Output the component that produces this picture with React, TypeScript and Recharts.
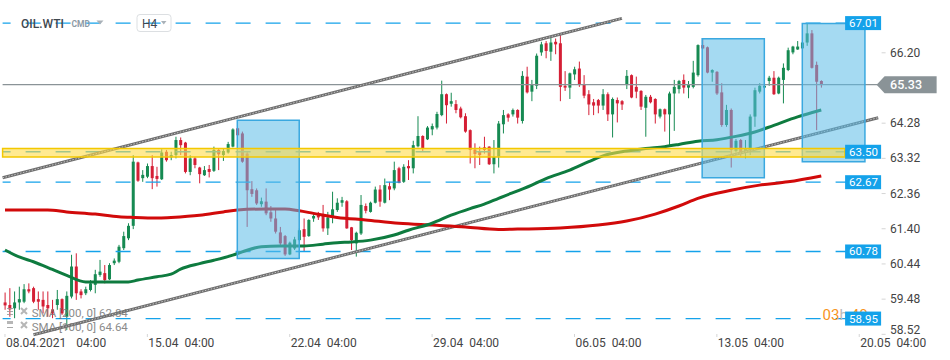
import React from "react";
import {
  ComposedChart,
  Bar,
  Line,
  XAxis,
  YAxis,
  ReferenceLine,
  ReferenceArea,
} from "recharts";

// OIL.WTI, H4 bars from 08.04.2021 04:00 — [open, high, low, close]
const candles: [number, number, number, number][] = [
  [59.39, 59.66, 59.19, 59.31], [59.32, 59.78, 59.0, 59.2], [59.23, 59.69, 58.96, 59.39],
  [59.39, 59.82, 59.19, 59.48], [59.41, 59.89, 59.37, 59.75], [59.75, 59.91, 59.64, 59.69],
  [59.78, 59.82, 59.37, 59.41], [59.48, 59.69, 59.19, 59.41], [59.46, 59.69, 59.09, 59.28],
  [59.32, 59.69, 59.0, 59.23], [59.2, 59.46, 58.96, 59.09], [59.32, 59.73, 59.19, 59.48],
  [59.48, 59.5, 59.05, 59.09], [59.0, 59.69, 58.64, 59.57], [59.55, 60.69, 59.5, 60.37],
  [60.37, 60.73, 59.46, 59.64], [59.69, 59.75, 59.5, 59.59], [59.64, 59.82, 59.59, 59.75],
  [59.73, 60.0, 59.69, 59.91], [59.87, 60.28, 59.64, 60.16], [60.14, 60.55, 60.09, 60.23],
  [60.19, 60.41, 59.91, 60.0], [60.02, 60.46, 60.0, 60.41], [60.46, 60.59, 60.41, 60.53],
  [60.5, 60.96, 60.46, 60.91], [60.87, 61.32, 60.82, 61.2], [61.14, 61.55, 61.09, 61.48],
  [61.48, 63.41, 61.39, 63.23], [63.21, 63.23, 62.68, 62.71], [62.78, 63.0, 62.68, 62.87],
  [62.82, 63.18, 62.78, 63.11], [63.11, 63.41, 62.48, 62.78], [62.84, 63.09, 62.55, 62.76],
  [62.75, 63.57, 62.73, 63.48], [63.5, 63.55, 63.23, 63.27],
  [63.35, 63.5, 63.27, 63.41], [63.41, 63.91, 63.32, 63.82], [63.82, 63.89, 63.41, 63.68],
  [63.75, 63.77, 62.91, 62.95], [62.95, 63.41, 62.86, 63.32], [63.32, 63.36, 63.05, 63.14],
  [63.07, 63.09, 62.64, 62.89], [62.86, 63.11, 62.84, 63.0], [63.03, 63.14, 62.8, 62.95],
  [62.98, 63.64, 62.95, 63.55], [63.55, 63.59, 63.0, 63.43], [63.41, 63.59, 63.25, 63.52],
  [63.48, 63.77, 63.45, 63.71], [63.64, 64.14, 63.62, 64.11], [64.14, 64.16, 63.95, 63.95],
  [64.0, 64.05, 63.2, 63.23], [63.45, 63.5, 61.45, 62.45], [62.48, 62.7, 62.27, 62.35],
  [62.45, 62.5, 62.05, 62.09], [62.07, 62.25, 62.0, 62.15], [62.14, 62.5, 61.77, 61.82],
  [61.85, 62.02, 61.59, 61.68], [61.68, 61.95, 61.27, 61.32], [61.3, 61.45, 60.91, 61.0],
  [61.2, 61.23, 60.66, 60.7], [60.7, 61.05, 60.68, 61.02], [60.86, 61.18, 60.82, 61.11],
  [61.09, 61.41, 61.05, 61.36], [61.39, 61.68, 60.77, 61.18], [61.2, 61.66, 61.18, 61.64],
  [61.68, 61.84, 61.59, 61.75], [61.77, 61.86, 61.64, 61.71], [61.77, 62.05, 61.32, 61.41],
  [61.41, 61.86, 61.23, 61.71],
  [61.72, 62.41, 61.55, 61.93], [61.91, 62.23, 61.86, 62.11], [62.11, 62.27, 62.0, 62.18],
  [62.15, 62.18, 61.4, 61.41], [61.44, 61.45, 60.82, 61.09], [61.0, 61.32, 60.64, 61.29],
  [61.27, 62.32, 61.23, 62.05], [62.02, 62.09, 61.82, 61.89], [61.86, 62.14, 61.84, 62.11],
  [62.11, 62.55, 62.09, 62.47], [62.47, 62.59, 62.0, 62.14], [62.11, 62.77, 62.09, 62.59],
  [62.56, 62.68, 62.18, 62.47], [62.5, 63.23, 62.45, 63.0], [63.05, 63.09, 62.64, 62.65],
  [62.68, 63.16, 62.65, 63.09], [63.11, 63.27, 62.73, 63.05], [63.05, 63.8, 62.91, 63.68],
  [63.65, 64.47, 63.62, 63.93], [63.93, 63.95, 63.5, 63.59], [63.84, 64.2, 63.82, 64.16],
  [64.11, 64.27, 63.95, 64.2], [64.16, 64.59, 64.11, 64.53], [64.5, 65.44, 64.47, 65.07],
  [65.07, 65.09, 64.27, 64.77], [64.81, 65.11, 64.73, 64.88], [64.8, 64.91, 64.55, 64.64],
  [64.68, 64.73, 64.41, 64.44], [64.47, 64.55, 64.02, 64.05], [64.09, 64.11, 63.18, 63.55],
  [63.56, 63.73, 63.05, 63.44], [63.5, 63.64, 63.14, 63.41], [63.62, 63.91, 63.45, 63.55],
  [63.64, 63.65, 63.14, 63.16], [63.16, 63.82, 62.91, 63.36], [63.37, 64.34, 63.07, 64.27],
  [64.25, 64.64, 64.0, 64.5], [64.52, 64.55, 64.32, 64.43], [64.52, 64.68, 64.46, 64.64],
  [64.64, 64.66, 64.27, 64.43], [64.34, 65.7, 64.27, 65.57], [65.55, 65.82, 65.09, 65.12],
  [65.14, 65.46, 64.88, 65.34], [65.3, 66.18, 65.21, 66.12], [66.21, 66.5, 66.12, 66.43],
  [66.46, 66.52, 66.05, 66.25], [66.23, 66.61, 65.98, 66.48], [66.5, 66.59, 66.16, 66.43],
  [66.46, 66.73, 64.88, 65.27], [65.3, 65.7, 65.16, 65.25], [65.25, 65.66, 64.94, 65.64],
  [65.61, 65.82, 65.46, 65.75], [65.77, 65.96, 65.27, 65.32], [65.34, 65.59, 64.96, 65.03],
  [65.07, 65.18, 64.5, 64.79], [64.85, 64.94, 64.5, 64.76], [64.91, 64.94, 64.55, 64.76],
  [64.76, 65.21, 64.64, 65.07], [65.07, 65.12, 64.34, 64.52], [64.52, 64.98, 63.89, 64.94],
  [64.91, 64.98, 64.3, 64.82], [64.88, 64.91, 64.64, 64.79], [65.32, 65.73, 65.21, 65.57],
  [65.59, 65.61, 64.96, 64.98], [65.27, 65.55, 64.96, 65.14], [65.16, 65.18, 64.64, 64.73],
  [64.7, 65.05, 63.91, 65.0], [65.0, 65.05, 64.82, 64.85], [64.94, 64.96, 64.27, 64.52],
  [64.46, 64.68, 64.41, 64.66], [64.66, 64.68, 64.05, 64.52],
  [64.52, 65.14, 63.64, 65.09], [65.09, 65.46, 64.07, 65.27], [65.21, 65.46, 65.09, 65.43],
  [65.46, 65.61, 65.09, 65.25], [65.25, 65.43, 64.96, 65.32], [65.27, 65.98, 65.23, 65.66],
  [65.59, 66.43, 65.55, 66.41], [66.41, 66.59, 66.3, 66.32], [66.35, 66.37, 65.64, 65.66],
  [65.66, 65.75, 65.41, 65.73], [65.68, 65.7, 65.05, 65.09], [65.12, 65.37, 64.18, 64.23],
  [64.23, 64.78, 64.18, 64.64], [64.64, 64.68, 63.07, 63.55], [63.52, 63.85, 63.48, 63.8],
  [63.82, 63.85, 63.37, 63.48], [63.5, 63.82, 63.32, 63.59], [63.55, 64.52, 63.41, 64.46],
  [64.46, 65.25, 64.18, 65.18], [65.14, 65.37, 65.09, 65.3], [65.25, 65.41, 65.21, 65.3],
  [65.43, 65.57, 65.3, 65.52], [65.52, 65.7, 65.05, 65.07], [65.09, 65.55, 65.07, 65.52],
  [65.46, 65.91, 64.82, 65.79], [65.73, 66.34, 65.7, 66.27], [66.21, 66.39, 66.16, 66.37],
  [66.29, 66.52, 66.28, 66.37], [66.32, 66.5, 66.3, 66.48], [66.48, 67.0, 66.39, 66.73],
  [66.73, 66.82, 65.77, 65.79], [65.87, 65.96, 64.09, 65.41], [65.43, 65.45, 65.25, 65.32],
];

// moving averages: [bar index, value]
const sma100: [number, number][] = [
  [0, 60.82], [3, 60.63], [6, 60.5], [10, 60.29], [13, 60.13], [17, 59.95], [20, 59.95],
  [26, 59.95], [28, 60.0], [32, 60.09], [35, 60.16], [37, 60.3], [41, 60.45], [44, 60.54],
  [48, 60.68], [50, 60.77], [54, 60.91], [58, 60.93], [63, 60.93], [67, 60.98], [70, 61.02],
  [73, 61.04], [77, 61.09], [82, 61.23], [85, 61.36], [90, 61.55], [94, 61.77], [98, 61.95],
  [101, 62.07], [104, 62.23], [111, 62.59], [114, 62.77], [119, 63.0], [123, 63.23],
  [126, 63.39], [131, 63.52], [135, 63.59], [139, 63.64], [142, 63.7], [146, 63.79],
  [150, 63.83], [154, 63.92], [158, 64.04], [162, 64.22], [167, 64.45], [172, 64.64],
];
const sma200: [number, number][] = [
  [0, 61.91], [9, 61.91], [13, 61.86], [19, 61.8], [24, 61.73], [27, 61.71], [32, 61.69],
  [35, 61.71], [41, 61.77], [46, 61.86], [49, 61.91], [55, 61.94], [59, 61.94], [62, 61.89],
  [65, 61.82], [70, 61.71], [76, 61.64], [83, 61.55], [90, 61.5], [97, 61.45], [104, 61.38],
  [108, 61.39], [117, 61.42], [125, 61.5], [131, 61.61], [137, 61.8], [142, 62.02],
  [146, 62.23], [153, 62.45], [159, 62.59], [165, 62.68], [172, 62.84],
];

const slotCount = 185;
const priceTicks = [58.52, 59.48, 60.44, 61.4, 62.36, 63.32, 64.28, 66.2];
const dateTicks = [0, 30, 60, 90, 120, 150, 180];
const dateLabels = ["08.04.2021", "15.04", "22.04", "29.04", "06.05", "13.05", "20.05"];
const timeLabel = "04:00";

const levels = [67.01, 63.5, 62.67, 60.78, 58.95];
const lastPrice = 65.33;
// support zone: [from bar, to bar, low, high]
const supportZone = [-0.5, 177, 63.36, 63.59];
// highlighted ranges: [from bar, to bar, low, high]
const ranges: [number, number, number, number][] = [
  [48.95, 62.0, 60.59, 64.36],
  [146.9, 160.0, 62.79, 66.58],
  [168.0, 181.2, 63.23, 67.0],
];
// channel: [[bar, price], [bar, price]]
const channelTop: [number, number][] = [[-0.5, 62.79], [130, 67.14]];
const channelBottom: [number, number][] = [[6, 58.51], [184, 64.43]];

const GREEN = "#168a52";
const RED = "#d51f35";
const BLUE = "#14a2ea";
const FONT = "Roboto, sans-serif";

const rows = Array.from({ length: slotCount }, (_, i) => {
  const k = candles[i];
  const a = sma100.find((p) => p[0] === i);
  const b = sma200.find((p) => p[0] === i);
  return {
    i,
    hl: k ? [k[2], k[1]] : null,
    o: k ? k[0] : null,
    c: k ? k[3] : null,
    sma100: a ? a[1] : null,
    sma200: b ? b[1] : null,
  };
});

const Candle = (props: any) => {
  const { x, y, width, height, payload } = props;
  if (!payload || !payload.hl) return null;
  const [lo, hi] = payload.hl;
  const top = Math.min(y, y + height);
  const span = Math.abs(height);
  const k = hi === lo ? 0 : span / (hi - lo);
  const yOf = (v: number) => top + (hi - v) * k;
  const up = payload.c >= payload.o;
  const col = up ? GREEN : RED;
  const cx = x + width / 2;
  const bTop = yOf(Math.max(payload.o, payload.c));
  const bBot = yOf(Math.min(payload.o, payload.c));
  return (
    <g>
      <line x1={cx} x2={cx} y1={top} y2={top + span} stroke={col} strokeWidth={1} />
      <rect x={x} y={bTop} width={width} height={Math.max(1, bBot - bTop)} fill={col} />
    </g>
  );
};

const DateTick = ({ x, y, payload }: any) => {
  const idx = dateTicks.indexOf(payload.value);
  return (
    <g>
      <line x1={x} x2={x} y1={y - 4} y2={y - 1} stroke="#d5d5d5" />
      <text x={x + 1} y={y + 9} fontSize={12} fill="#444" fontFamily={FONT}>
        <tspan>{dateLabels[idx]}</tspan>
        <tspan dx={idx === 0 ? 10 : 6}>{timeLabel}</tspan>
      </text>
    </g>
  );
};

const PriceTick = ({ x, y, payload }: any) => {
  const v = Number(payload.value);
  // lowest label sits a little higher so it clears the date row
  const dy = v === priceTicks[0] ? -4 : 0;
  return (
    <g>
      <line x1={x + 1} x2={x + 5} y1={y} y2={y} stroke="#d5d5d5" />
      <text x={x + 9.5} y={y + 4 + dy} fontSize={12} fill="#444" fontFamily={FONT}>
        {v.toFixed(2)}
      </text>
    </g>
  );
};

const LevelTag = ({ viewBox, text, countdown }: any) => {
  if (!viewBox) return null;
  const right = viewBox.x + viewBox.width;
  const cy = viewBox.y;
  return (
    <g>
      {countdown && (
        <text x={right - 58} y={cy + 1.5} fontSize={15} fontFamily={FONT}>
          <tspan fill="#f7941d">03</tspan>
          <tspan fill="#b9b9b9">h</tspan>
          <tspan fill="#f7941d" dx={3}>40</tspan>
          <tspan fill="#b9b9b9">m</tspan>
        </text>
      )}
      <rect x={right - 35.5} y={cy - 7} width={36} height={14} fill={BLUE} />
      <text x={right - 31.5} y={cy + 4} fontSize={11.5} fill="#fff" fontFamily={FONT}>
        {text}
      </text>
    </g>
  );
};

const LastTag = ({ viewBox, text }: any) => {
  if (!viewBox) return null;
  const r = viewBox.x + viewBox.width;
  const cy = viewBox.y;
  const pts = `${r - 4},${cy} ${r + 4},${cy - 8.5} ${r + 56},${cy - 8.5} ${r + 56},${cy + 8.5} ${r + 4},${cy + 8.5}`;
  return (
    <g>
      <polygon points={pts} fill="#8a9397" />
      <text x={r + 9.5} y={cy + 4.5} fontSize={12.5} fontWeight={500} fill="#fff" fontFamily={FONT}>
        {text}
      </text>
    </g>
  );
};

export default function App() {
  return (
    <div style={{ position: "absolute", left: 0, top: 0, width: 950, height: 360, background: "#fff" }}>
      <ComposedChart
        width={950}
        height={360}
        data={rows}
        margin={{ top: 0, right: 0, bottom: 0, left: 2.6 }}
      >
        <XAxis
          dataKey="i"
          type="category"
          ticks={dateTicks}
          interval={0}
          tick={<DateTick />}
          tickLine={false}
          axisLine={false}
          tickSize={0}
          tickMargin={0}
          height={22}
        />
        <XAxis xAxisId="n" dataKey="i" type="number" domain={[-0.5, slotCount - 0.5]} allowDataOverflow hide />
        <YAxis
          orientation="right"
          type="number"
          domain={[58.42, 67.64]}
          allowDataOverflow
          ticks={priceTicks}
          interval={0}
          tick={<PriceTick />}
          tickLine={false}
          axisLine={false}
          tickSize={0}
          tickMargin={0}
          width={69.4}
        />

        {levels.map((v) => (
          <ReferenceLine key={v} y={v} stroke={BLUE} strokeWidth={1.3} strokeDasharray="15 15" />
        ))}
        <ReferenceLine y={lastPrice} stroke="#8a9397" strokeWidth={1.2} />

        {[channelTop, channelBottom].map((seg, n) => (
          <ReferenceLine
            key={"c" + n}
            xAxisId="n"
            segment={[{ x: seg[0][0], y: seg[0][1] }, { x: seg[1][0], y: seg[1][1] }]}
            stroke="#6e6e6e"
            strokeWidth={3}
          />
        ))}
        {[channelTop, channelBottom].map((seg, n) => (
          <ReferenceLine
            key={"d" + n}
            xAxisId="n"
            segment={[{ x: seg[0][0], y: seg[0][1] }, { x: seg[1][0], y: seg[1][1] }]}
            stroke="#c4c4c4"
            strokeWidth={1}
            strokeDasharray="1.5 1.5"
          />
        ))}

        <Line dataKey="sma200" type="monotone" stroke="#d10a0a" strokeWidth={3} dot={false} connectNulls isAnimationActive={false} />
        <Line dataKey="sma100" type="monotone" stroke="#0e7b3f" strokeWidth={3} dot={false} connectNulls isAnimationActive={false} />

        <Bar dataKey="hl" barSize={3} shape={(p: any) => <Candle {...p} />} isAnimationActive={false} />

        {ranges.map((r, n) => (
          <ReferenceArea
            key={"r" + n}
            xAxisId="n"
            x1={r[0]}
            x2={r[1]}
            y1={r[2]}
            y2={r[3]}
            fill="#5bbbe8"
            fillOpacity={0.55}
            stroke="#3aa8e0"
            strokeWidth={1.5}
            strokeOpacity={1}
            zIndex={450}
          />
        ))}
        <ReferenceArea
          xAxisId="n"
          x1={supportZone[0]}
          x2={supportZone[1]}
          y1={supportZone[2]}
          y2={supportZone[3]}
          fill="#ffdc4a"
          fillOpacity={0.6}
          stroke="#f3c800"
          strokeWidth={1.5}
          zIndex={460}
        />

        {/* price tags sit above the highlighted ranges */}
        {levels.map((v) => (
          <ReferenceLine
            key={"t" + v}
            y={v}
            stroke="none"
            zIndex={500}
            label={(p: any) => <LevelTag viewBox={p.viewBox} text={v.toFixed(2)} countdown={v === 58.95} />}
          />
        ))}
        <ReferenceLine
          y={lastPrice}
          stroke="none"
          zIndex={500}
          label={(p: any) => <LastTag viewBox={p.viewBox} text={lastPrice.toFixed(2)} />}
        />
      </ComposedChart>

      <svg width={950} height={360} style={{ position: "absolute", left: 0, top: 0, pointerEvents: "none" }}>
        <text x={21} y={27.5} fontSize={12} fontWeight={500} fill="#3f4850" fontFamily={FONT}>OIL.WTI</text>
        <text x={71.5} y={27} fontSize={8.5} fontWeight={700} fill="#8d9aa5" fontFamily={FONT}>CMD</text>
        <polygon points="96.5,20.5 103.5,20.5 100,24.5" fill="#a9b1b8" />
        <rect x={137} y={14.5} width={34} height={17} rx={3} fill="none" stroke="#dcdfe2" />
        <text x={142} y={27.5} fontSize={12} fill="#3f4850" fontFamily={FONT}>H4</text>
        <polygon points="161,21 166.5,21 163.75,24.5" fill="#a9b1b8" />

        <g opacity={0.85}>
          <line x1={7} x2={13} y1={308.5} y2={308.5} stroke="#999" />
          <line x1={7} x2={13} y1={311.5} y2={311.5} stroke="#999" />
          <line x1={7} x2={13} y1={314.5} y2={314.5} stroke="#999" />
          <path d="M21 308 L27 314 M27 308 L21 314" stroke="#aaa" strokeWidth={2} />
          <text x={31.7} y={317} fontSize={11.5} fill="#777" fontFamily={FONT}>SMA [200, 0] 62.84</text>
          <rect x={7} y={321} width={6} height={3} fill="#aaa" />
          <line x1={7} x2={13} y1={327.5} y2={327.5} stroke="#999" />
          <path d="M21 322 L27 328 M27 322 L21 328" stroke="#aaa" strokeWidth={2} />
          <text x={31.7} y={331} fontSize={11.5} fill="#777" fontFamily={FONT}>SMA [100, 0] 64.64</text>
        </g>
      </svg>
    </div>
  );
}
